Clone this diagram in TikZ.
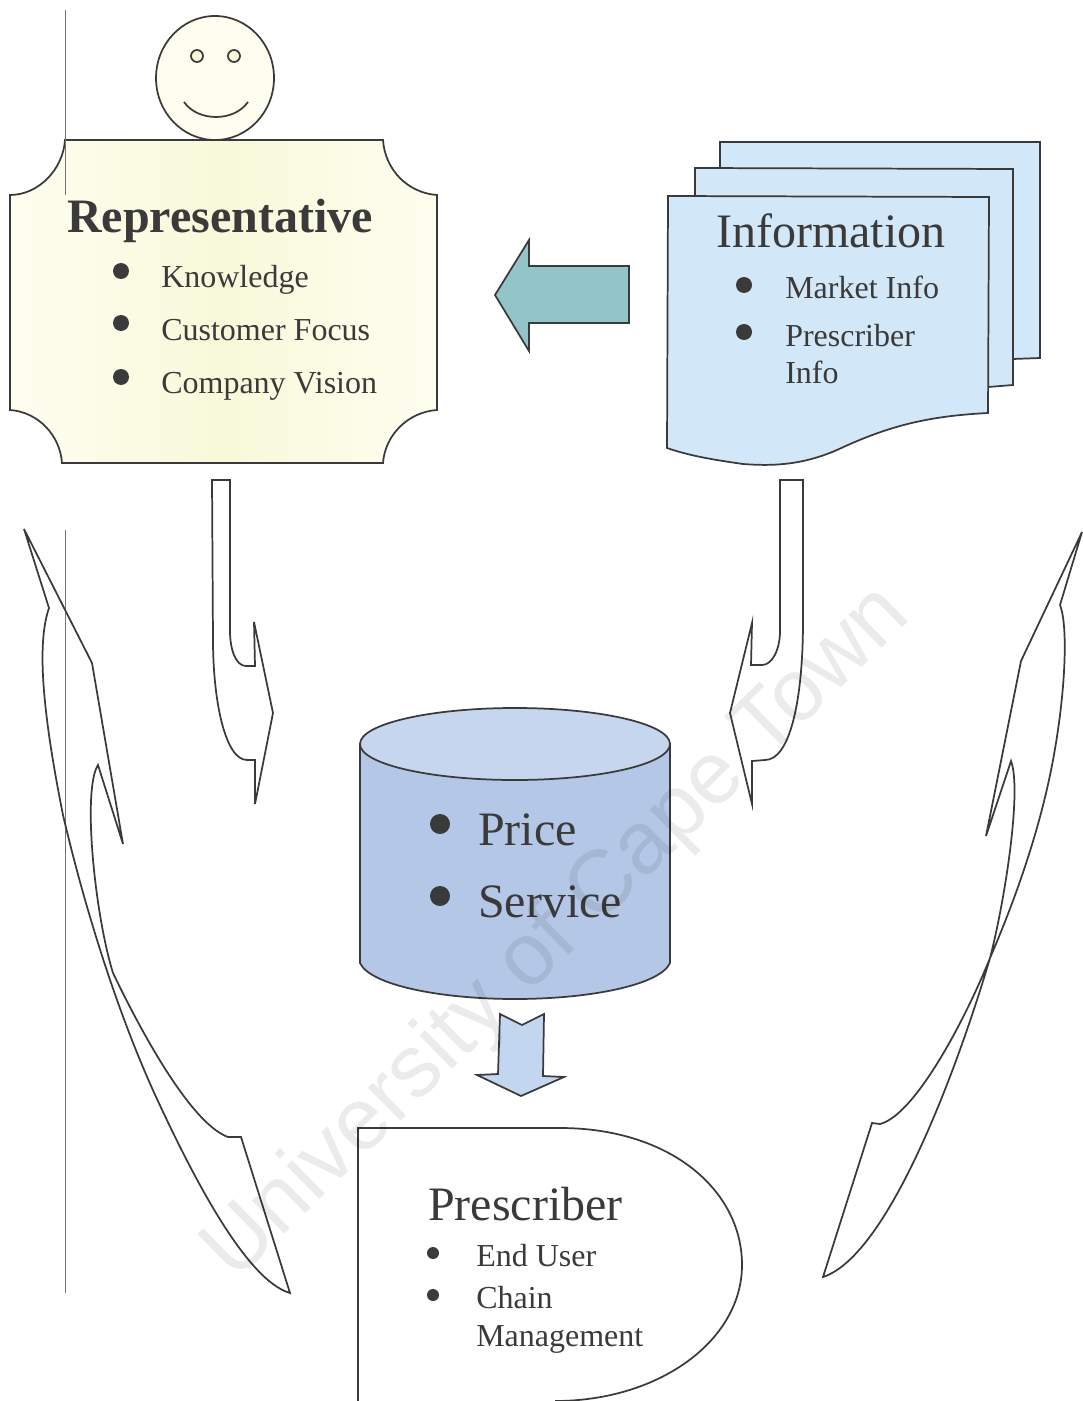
\documentclass[tikz,border=0pt]{standalone}
\usepackage{fontspec}
\setmainfont{Liberation Serif}
\newfontfamily\markfont{Liberation Sans}
\definecolor{ink}{HTML}{3A3A3A}
\definecolor{cream}{HTML}{FEFEF0}
\definecolor{creamband}{HTML}{F8F9DA}
\definecolor{paperblue}{HTML}{D2E7F7}
\definecolor{drumtop}{HTML}{C6D6EE}
\definecolor{drumlow}{HTML}{B4C7E6}
\definecolor{arrowteal}{HTML}{93C4C8}
\definecolor{arrowblue}{HTML}{C2D7EF}
\tikzset{
	outline/.style={draw=ink,line width=1.3pt,line join=miter},
	thinrule/.style={draw=black!55,line width=.6pt},
	titletext/.style={text=ink,font=\fontsize{36}{36}\selectfont,anchor=base west,inner sep=0pt},
	itemtext/.style={text=ink,font=\fontsize{24}{24}\selectfont,anchor=base west,inner sep=0pt},
	bullet/.style={circle,fill=ink,inner sep=0pt,minimum size=#1},
}

\begin{document}
\begin{tikzpicture}[x=.75pt,y=-.75pt]
	\useasboundingbox (0,0) rectangle (1082,1401);

	\draw[outline,fill=cream](215,78) ellipse (59 and 62);
	\draw[outline,fill=creamband](197,56) circle (6);
	\draw[outline,fill=creamband](234,56) circle (6);
	\draw[outline](184,102) .. controls (198,122) and (234,122) .. (248,102);

	\draw[outline,left color=cream,right color=cream,middle color=creamband](65,140)--(383,140)
		.. controls (385,170) and (408,193) .. (437,195)--(437,410)
		.. controls (408,412) and (385,435) .. (383,463)--(62,463)
		.. controls (60,435) and (38,412) .. (10,410)--(10,195)
		.. controls (38,195) and (63,170) .. (65,140)--cycle;
	\draw[thinrule](65,10)--(65,195);
	\draw[thinrule](65,530)--(65,1293);
	\node[titletext,font=\fontsize{36}{36}\selectfont\bfseries,anchor=base] (rep) at (220,233) {Representative};
	\node[bullet=12] (repa) at (121,271) {};
	\node[bullet=12] (repb) at (121,323) {};
	\node[bullet=12] (repc) at (121,377) {};
	\node[itemtext] (know) at (161,287) {Knowledge};
	\node[itemtext] (focus) at (161,340) {Customer Focus};
	\node[itemtext] (vision) at (161,393) {Company Vision};

	\draw[outline,fill=paperblue](720,142)--(1040,142)--(1040,358)--(1013,359)--(720,359)--cycle;
	\draw[outline,fill=paperblue](695,168)--(1013,169)--(1013,385)--(988,387)--(695,387)--cycle;
	\draw[outline,fill=paperblue](668,196)--(989,197)--(988,413)
		.. controls (930,416) and (890,425) .. (837,450)
		.. controls (800,466) and (770,466) .. (743,464)
		.. controls (715,460) and (690,456) .. (667,448)--cycle;
	\node[titletext] (info) at (716,248) {Information};
	\node[bullet=12] (infoa) at (744,285) {};
	\node[bullet=12] (infob) at (744,332) {};
	\node[itemtext] (market) at (785,299) {Market Info};
	\node[itemtext] (presinfo) at (785,346) {Prescriber};
	\node[itemtext] (presinfob) at (785,383) {Info};

	\draw[outline,fill=arrowteal](629,266)--(529,266)--(529,240)--(495,295)--(529,351)--(529,323)--(629,323)--cycle;

	\draw[outline](212,480)--(213,640)
		.. controls (213,700) and (225,760) .. (247,760)--(255,760)
		--(255,804)--(273,713)--(254,622)--(255,666)--(246,666)
		.. controls (236,666) and (230,650) .. (230,631)--(230,480)--cycle;
	\draw[outline](780,480)--(803,480)--(803,621)
		.. controls (803,700) and (790,760) .. (765,760)--(752,761)
		--(752,804)--(730,713)--(752,623)--(751,665)--(762,665)
		.. controls (772,665) and (780,650) .. (780,631)--cycle;

	\draw[outline](24,529)--(49,608)
		.. controls (38,640) and (40,700) .. (63,815)
		.. controls (90,930) and (125,1030) .. (157,1099)
		.. controls (190,1170) and (245,1280) .. (290,1293)
		--(241,1137)--(228,1137)
		.. controls (195,1125) and (150,1050) .. (113,973)
		.. controls (95,915) and (82,790) .. (98,765)
		--(123,844)--(92,663)--cycle;
	\draw[outline](1082,532)--(1060,605)
		.. controls (1068,625) and (1066,690) .. (1053,760)
		.. controls (1040,830) and (1015,900) .. (990,958)
		.. controls (960,1060) and (890,1255) .. (823,1277)
		--(872,1123)--(880,1124)
		.. controls (915,1115) and (965,1020) .. (990,958)
		.. controls (1005,900) and (1022,790) .. (1011,761)
		--(986,836)--(1021,661)--cycle;

	\draw[outline,fill=drumlow](360,744)--(360,963)
		.. controls (370,985) and (440,999) .. (515,999)
		.. controls (590,999) and (660,985) .. (670,963)--(670,744)--cycle;
	\draw[outline,fill=drumtop](515,744) ellipse (155 and 36);
	\node[bullet=15] (pricedot) at (440,824) {};
	\node[bullet=15] (servicedot) at (440,896) {};
	\node[titletext] (price) at (478,845) {Price};
	\node[titletext] (service) at (478,917) {Service};

	\draw[outline,fill=arrowblue](500,1014)--(522,1025)--(544,1014)--(543,1076)--(564,1077)--(521,1096)--(477,1075)--(498,1074)--cycle;

	\draw[outline](358,1401)--(358,1128)--(560,1128)
		.. controls (670,1128) and (742,1190) .. (742,1265)
		.. controls (742,1340) and (660,1401) .. (555,1401);
	\node[titletext] (pres) at (428,1220) {Prescriber};
	\node[bullet=9] (presa) at (433,1253) {};
	\node[bullet=9] (presb) at (433,1295) {};
	\node[itemtext] (enduser) at (476,1266) {End User};
	\node[itemtext] (chain) at (476,1308) {Chain};
	\node[itemtext] (manage) at (476,1346) {Management};

	\node[text=black,text opacity=.08,font=\fontsize{66}{66}\selectfont\markfont,rotate=44.5,inner sep=0pt] (mark) at (558,934) {University of Cape Town};
\end{tikzpicture}
\end{document}
